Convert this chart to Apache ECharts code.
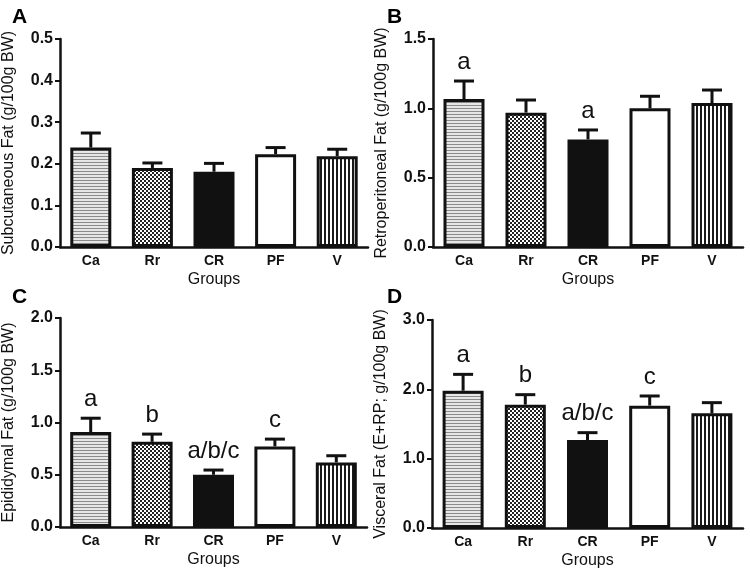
<!DOCTYPE html>
<html>
<head>
<meta charset="utf-8">
<script src="https://cdn.jsdelivr.net/npm/echarts@6/dist/echarts.min.js"></script>
<style>
  html, body { margin: 0; padding: 0; background: #fff; }
  #main { width: 750px; height: 573px; }
</style>
</head>
<body>
<div id="main"></div>
<script>
// data (mean + upward SEM bar)
var groups = ["Ca", "Rr", "CR", "PF", "V"];

var subcutMean = [0.239, 0.190, 0.181, 0.223, 0.218];
var subcutSem = [0.035, 0.012, 0.020, 0.016, 0.017];
var subcutSig = ["", "", "", "", ""];

var retroMean = [1.067, 0.969, 0.776, 1.000, 1.038];
var retroSem = [0.130, 0.091, 0.068, 0.087, 0.094];
var retroSig = ["a", "", "a", "", ""];

var epiMean = [0.908, 0.815, 0.500, 0.771, 0.618];
var epiSem = [0.133, 0.074, 0.045, 0.070, 0.064];
var epiSig = ["a", "b", "a/b/c", "c", ""];

var viscMean = [1.980, 1.779, 1.269, 1.765, 1.654];
var viscSem = [0.236, 0.144, 0.106, 0.139, 0.154];
var viscSig = ["a", "b", "a/b/c", "c", ""];

var yTicks = [
  { max: 0.5, interval: 0.1 },
  { max: 1.5, interval: 0.5 },
  { max: 2.0, interval: 0.5 },
  { max: 3.0, interval: 1.0 }
];

function makePattern(w, h, draw) {
  var c = document.createElement("canvas");
  c.width = w;
  c.height = h;
  var ctx = c.getContext("2d");
  draw(ctx);
  return { image: c, repeat: "repeat" };
}

var fills = [
  makePattern(1, 3, function(ctx) {
    ctx.fillStyle = "#e6e6e6"; ctx.fillRect(0, 0, 1, 3);
    ctx.fillStyle = "#8a8a8a"; ctx.fillRect(0, 0, 1, 1);
  }),
  makePattern(4, 4, function(ctx) {
    ctx.fillStyle = "#ffffff"; ctx.fillRect(0, 0, 4, 4);
    ctx.fillStyle = "#222222"; ctx.fillRect(0, 0, 2, 2); ctx.fillRect(2, 2, 2, 2);
  }),
  "#111111",
  "#ffffff",
  makePattern(4, 1, function(ctx) {
    ctx.fillStyle = "#ffffff"; ctx.fillRect(0, 0, 4, 1);
    ctx.fillStyle = "#1a1a1a"; ctx.fillRect(0, 0, 2, 1);
  })
];

var font = "'Liberation Sans', Arial, sans-serif";

var panels = [
  { mean: subcutMean, sem: subcutSem, sig: subcutSig, name: "Subcutaneous Fat (g/100g BW)", grid: { left: 57, top: 39, width: 311, height: 208 } },
  { mean: retroMean, sem: retroSem, sig: retroSig, name: "Retroperitoneal Fat (g/100g BW)", grid: { left: 433, top: 39, width: 310, height: 208 } },
  { mean: epiMean, sem: epiSem, sig: epiSig, name: "Epididymal Fat (g/100g BW)", grid: { left: 55, top: 318, width: 312, height: 209 } },
  { mean: viscMean, sem: viscSem, sig: viscSig, name: "Visceral Fat (E+RP; g/100g BW)", grid: { left: 432, top: 320, width: 311, height: 208 } }
];

var option = {
  animation: false,
  textStyle: { fontFamily: font },
  grid: [],
  xAxis: [],
  yAxis: [],
  series: [],
  graphic: [
    { type: "text", left: 12, top: 7, style: { text: "A", font: "bold 21px " + font, fill: "#000" } },
    { type: "text", left: 387, top: 7, style: { text: "B", font: "bold 21px " + font, fill: "#000" } },
    { type: "text", left: 12, top: 287, style: { text: "C", font: "bold 21px " + font, fill: "#000" } },
    { type: "text", left: 387, top: 287, style: { text: "D", font: "bold 21px " + font, fill: "#000" } }
  ]
};

panels.forEach(function(p, i) {
  option.grid.push(p.grid);
  option.xAxis.push({
    type: "category",
    gridIndex: i,
    data: groups,
    name: "Groups",
    nameLocation: "middle",
    nameGap: 25,
    nameTextStyle: { fontSize: 16, color: "#111" },
    axisLine: { lineStyle: { color: "#111", width: 2.5 } },
    axisTick: { alignWithLabel: true, length: 5, lineStyle: { color: "#111", width: 2 } },
    axisLabel: { fontSize: 14, fontWeight: "bold", color: "#111", margin: 7 }
  });
  option.yAxis.push({
    type: "value",
    gridIndex: i,
    min: 0,
    max: yTicks[i].max,
    interval: yTicks[i].interval,
    name: p.name,
    nameLocation: "middle",
    nameGap: 43,
    nameTextStyle: { fontSize: 16, color: "#111" },
    splitLine: { show: false },
    axisLine: { show: true, lineStyle: { color: "#111", width: 2.5 } },
    axisTick: { show: true, length: 5, lineStyle: { color: "#111", width: 2 } },
    axisLabel: {
      fontSize: 16, fontWeight: "bold", color: "#111", margin: 7,
      formatter: function(v) { return v.toFixed(1); }
    }
  });
  option.series.push({
    type: "bar",
    xAxisIndex: i,
    yAxisIndex: i,
    barWidth: 41,
    data: p.mean.map(function(v, k) {
      return { value: v, itemStyle: { color: fills[k], borderColor: "#111", borderWidth: 3 } };
    })
  });
  option.series.push({
    type: "custom",
    xAxisIndex: i,
    yAxisIndex: i,
    z: 5,
    data: p.mean.map(function(v, k) { return [k, v, v + p.sem[k]]; }),
    renderItem: function(params, api) {
      var base = api.coord([api.value(0), api.value(1)]);
      var top = api.coord([api.value(0), api.value(2)]);
      var x = base[0];
      var cap = 10;
      var st = { stroke: "#111", lineWidth: 3 };
      var children = [
        { type: "line", shape: { x1: x, y1: base[1], x2: x, y2: top[1] }, style: st },
        { type: "line", shape: { x1: x - cap, y1: top[1], x2: x + cap, y2: top[1] }, style: st }
      ];
      var letter = p.sig[params.dataIndex];
      if (letter) {
        children.push({
          type: "text",
          style: {
            text: letter, x: x, y: top[1] - 7,
            align: "center", verticalAlign: "bottom",
            font: "24px " + font, fill: "#111"
          }
        });
      }
      return { type: "group", children: children };
    }
  });
});

var myChart = echarts.init(document.getElementById("main"));
myChart.setOption(option);
</script>
</body>
</html>
